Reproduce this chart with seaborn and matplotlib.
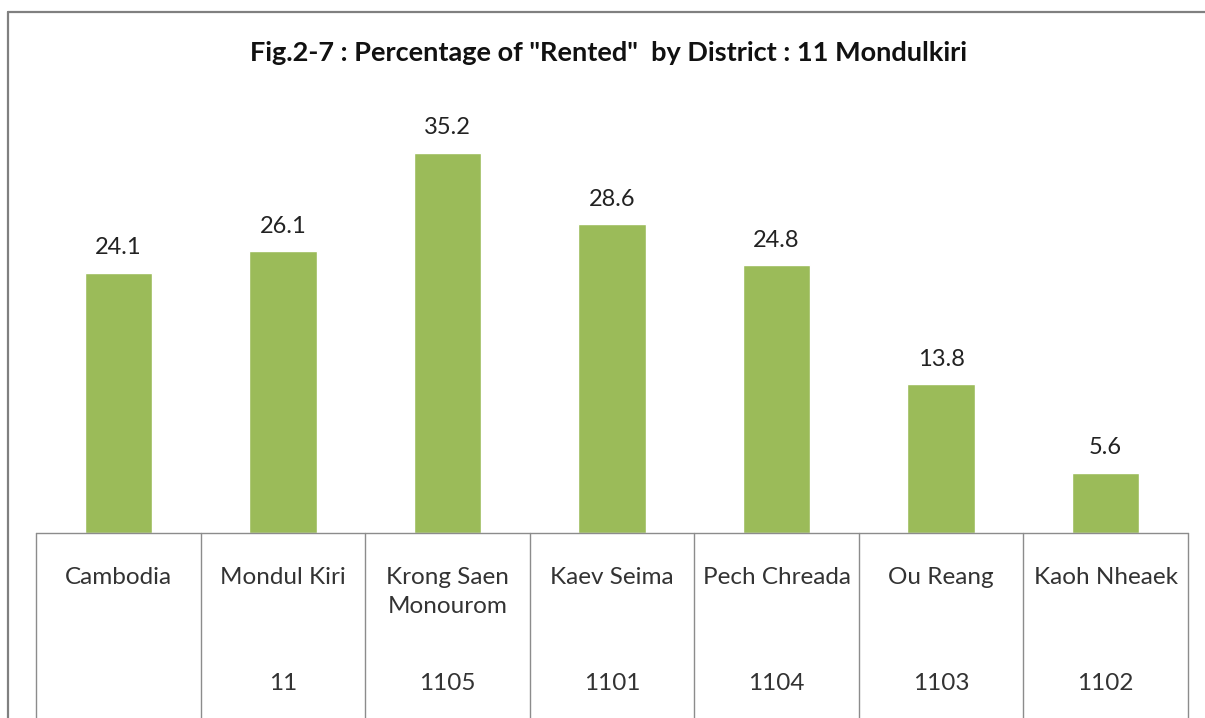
import matplotlib
matplotlib.use("Agg")
import matplotlib.pyplot as plt
import matplotlib.transforms as mtransforms
from matplotlib.lines import Line2D
import seaborn as sns
import pandas as pd

districts = ["Cambodia", "Mondul Kiri", "Krong Saen\nMonourom", "Kaev Seima",
             "Pech Chreada", "Ou Reang", "Kaoh Nheaek"]
codes = ["", "11", "1105", "1101", "1104", "1103", "1102"]
rented = [24.1, 26.1, 35.2, 28.6, 24.8, 13.8, 5.6]

df = pd.DataFrame({"District": districts, "Rented": rented})

sns.set_style("white")
plt.rcParams["font.family"] = ["Lato", "DejaVu Sans"]

fig = plt.figure(figsize=(12.05, 7.18), dpi=100)
ax = fig.add_axes([36 / 1205, (718 - 533) / 718, (1188 - 36) / 1205, 432 / 718])

sns.barplot(data=df, x="District", y="Rented", color="#9BBB59", width=0.41,
            saturation=1, ax=ax)
ax.set_ylim(0, 40)
ax.set_xlim(-0.5, len(districts) - 0.5)
for s in ax.spines.values():
    s.set_visible(False)
ax.set_xticks([])
ax.set_yticks([])
ax.set_xlabel("")
ax.set_ylabel("")

for i, v in enumerate(rented):
    ax.text(i, v + 2.3, f"{v}", ha="center", va="center", fontsize=17, color="#222222")

# category table under the bars
trans = mtransforms.blended_transform_factory(ax.transData, ax.transAxes)
line_col = "#8c8c8c"
ax.add_line(Line2D([-0.5, len(districts) - 0.5], [0, 0], transform=trans,
                   color=line_col, lw=1.0, clip_on=False))
bottom = -(718 - 533) / 432
for k in range(len(districts) + 1):
    ax.add_line(Line2D([k - 0.5, k - 0.5], [0, bottom], transform=trans,
                       color=line_col, lw=1.0, clip_on=False))
for i, (name, code) in enumerate(zip(districts, codes)):
    ax.text(i, -34 / 432, name, transform=trans, ha="center", va="top",
            fontsize=17.5, color="#333333", linespacing=1.45)
    ax.text(i, -150 / 432, code, transform=trans, ha="center", va="center",
            fontsize=17.5, color="#333333")

fig.text(609 / 1205, 1 - 53 / 718,
         'Fig.2-7 : Percentage of "Rented"  by District : 11 Mondulkiri',
         ha="center", va="center", fontsize=19.5, fontweight="bold", color="#111111")

# outer chart border
border = "#808080"
fig.add_artist(Line2D([8 / 1205, 8 / 1205], [0, 1 - 12 / 718], color=border, lw=1.6,
                      transform=fig.transFigure))
fig.add_artist(Line2D([8 / 1205, 1], [1 - 12 / 718, 1 - 12 / 718], color=border, lw=1.6,
                      transform=fig.transFigure))

fig.savefig("out.png", dpi=100)
